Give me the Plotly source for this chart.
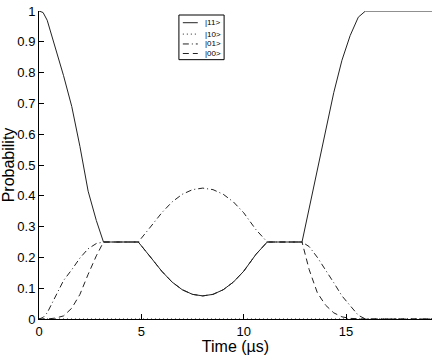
import plotly.graph_objects as go

# time points (µs) and the four state populations
time_us = [0, 0.2, 0.4, 0.8, 1.2, 1.6, 2.0, 2.4, 2.8, 3.15,
           4.85, 5.4, 6.0, 6.5, 7.0, 7.5, 8.0, 8.5, 9.0, 9.5, 10.0, 10.6, 11.15,
           12.85, 13.2, 13.6, 14.0, 14.4, 14.8, 15.2, 15.6, 15.95,
           19.2]

p11 = [1.0, 0.995, 0.97, 0.88, 0.79, 0.69, 0.56, 0.415, 0.32, 0.25,
       0.25, 0.205, 0.155, 0.12, 0.095, 0.08, 0.075, 0.08, 0.095, 0.12, 0.155, 0.21, 0.25,
       0.25, 0.36, 0.49, 0.615, 0.735, 0.84, 0.92, 0.98, 1.0,
       1.0]

p10 = [0.0] * len(time_us)

p01 = [0.0, 0.005, 0.02, 0.07, 0.125, 0.16, 0.198, 0.228, 0.245, 0.25,
       0.25, 0.295, 0.345, 0.38, 0.405, 0.42, 0.425, 0.42, 0.405, 0.38, 0.345, 0.29, 0.25,
       0.25, 0.235, 0.2, 0.16, 0.118, 0.075, 0.043, 0.012, 0.0,
       0.0]

p00 = [0.0, 0.0, 0.0, 0.003, 0.01, 0.035, 0.08, 0.145, 0.205, 0.25,
       0.25, 0.205, 0.155, 0.12, 0.095, 0.08, 0.075, 0.08, 0.095, 0.12, 0.155, 0.21, 0.25,
       0.25, 0.16, 0.085, 0.045, 0.02, 0.007, 0.002, 0.0, 0.0,
       0.0]

legend_labels = ["|11>", "|10>", "|01>", "|00>"]

DASH = {"|11>": "solid", "|10>": "1px,3px", "|01>": "6px,3px,1px,3px", "|00>": "6px,4px"}
LINE_COLOR = "#222222"

fig = go.Figure()
# draw solid last so it sits on top of the curves it overlaps
for name, vals in [("|10>", p10), ("|00>", p00), ("|01>", p01), ("|11>", p11)]:
    fig.add_trace(go.Scatter(
        x=time_us, y=vals, mode="lines", name=name, showlegend=False,
        line=dict(color=LINE_COLOR, width=1, dash=DASH[name]),
    ))

# small boxed legend like the matlab one (paper coords of the plot area)
shapes = [dict(type="rect", xref="paper", yref="paper",
               x0=0.356, x1=0.471, y0=0.842, y1=0.987,
               line=dict(color="black", width=1), fillcolor="white", layer="above")]
annotations = []
row_y = [0.962, 0.925, 0.893, 0.862]
for lab, yy in zip(legend_labels, row_y):
    shapes.append(dict(type="line", xref="paper", yref="paper",
                       x0=0.366, x1=0.404, y0=yy, y1=yy, layer="above",
                       line=dict(color=LINE_COLOR, width=1, dash=DASH[lab])))
    annotations.append(dict(text=lab, xref="paper", yref="paper", x=0.418, y=yy,
                            xanchor="left", yanchor="middle", showarrow=False,
                            font=dict(size=8)))

fig.update_layout(
    width=436, height=355,
    margin=dict(l=39, r=4, t=10, b=35),
    paper_bgcolor="white", plot_bgcolor="white",
    font=dict(family="Liberation Sans, Arial, sans-serif", size=13, color="black"),
    shapes=shapes, annotations=annotations,
)

fig.update_xaxes(
    range=[0, 19.2], tickvals=[0, 5, 10, 15],
    showline=True, linecolor="black", linewidth=1, mirror=False,
    ticks="inside", ticklen=5, tickcolor="black",
    showgrid=False, zeroline=False,
    title=dict(text="Time (µs)", standoff=1),
)
fig.update_yaxes(
    range=[0, 1], tickvals=[i / 10 for i in range(11)],
    ticktext=["0"] + [f"0.{i}" for i in range(1, 10)] + ["1"],
    showline=True, linecolor="black", linewidth=1, mirror=False,
    ticks="inside", ticklen=5, tickcolor="black",
    showgrid=False, zeroline=False,
    title=dict(text="Probability", standoff=0),
)

# drop the default 8px page margin so the figure fills the window exactly
fig.write_html("out.html", config={"displayModeBar": False},
               post_script="document.body.style.margin='0';")
